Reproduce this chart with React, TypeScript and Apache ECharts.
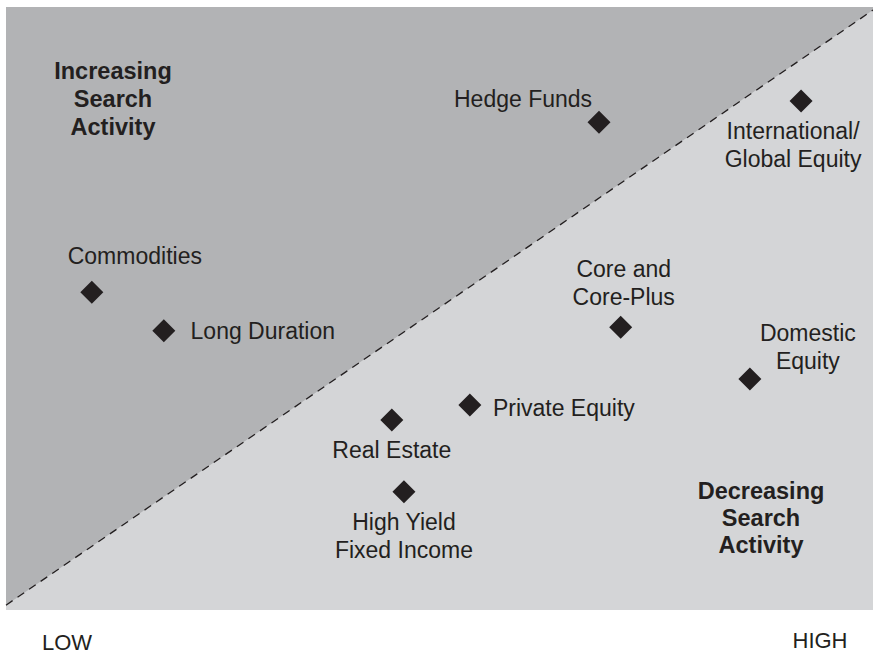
import React, { useEffect, useRef } from "react";
import * as echarts from "echarts";

// ---- data ----
const assetNames = [
  "Hedge Funds",
  "International/\nGlobal Equity",
  "Commodities",
  "Long Duration",
  "Core and\nCore-Plus",
  "Domestic\nEquity",
  "Private Equity",
  "Real Estate",
  "High Yield\nFixed Income",
];
const xValues = [68.4, 91.7, 9.9, 18.2, 70.9, 85.8, 53.5, 44.5, 45.9];
const yValues = [80.9, 84.4, 52.7, 46.3, 46.9, 38.3, 34.0, 31.5, 19.6];
const diagonalX = [0, 100];
const diagonalY = [0.8, 99.5];
const axisEndLabels = ["LOW", "HIGH"];
const regionLabels = ["Increasing\nSearch\nActivity", "Decreasing\nSearch\nActivity"];

// ---- styling (label offsets in px relative to the marker) ----
const labelOffsets: [number, number][] = [
  [-76, -23],
  [-8, 44],
  [43, -36],
  [99, 0],
  [3, -44],
  [58, -32],
  [94, 3],
  [0, 30],
  [0, 44],
];

const INK = "#231f20";
const DARK = "#b2b3b5";
const LIGHT = "#d4d5d7";
const FONT = "Liberation Sans, Arial, Helvetica, sans-serif";

export default function App() {
  const ref = useRef<HTMLDivElement>(null);

  useEffect(() => {
    if (!ref.current) return;
    const chart = echarts.init(ref.current, undefined, { renderer: "svg" });

    const scatterData = assetNames.map((name, i) => ({
      name,
      value: [xValues[i], yValues[i]],
      label: {
        show: true,
        position: "inside",
        offset: labelOffsets[i],
        formatter: name,
        color: INK,
        fontSize: 23,
        fontFamily: FONT,
        lineHeight: 28,
        align: "center",
        verticalAlign: "middle",
      },
    }));

    const textEl = (x: number, y: number, text: string, font: string, lineHeight?: number) => ({
      type: "text",
      x,
      y,
      z: 100,
      style: {
        text,
        font,
        fill: INK,
        align: "center",
        verticalAlign: "middle",
        lineHeight,
      },
    });

    chart.setOption({
      animation: false,
      grid: {
        left: 6,
        right: 0,
        top: 7,
        bottom: 46,
        show: true,
        backgroundColor: LIGHT,
        borderWidth: 0,
      },
      xAxis: { type: "value", min: 0, max: 100, show: false },
      yAxis: { type: "value", min: 0, max: 100, show: false },
      series: [
        {
          type: "line",
          data: diagonalX.map((x, i) => [x, diagonalY[i]]),
          symbol: "none",
          silent: true,
          z: 1,
          lineStyle: { color: INK, width: 1.3, type: [8, 6] },
          areaStyle: { color: DARK, opacity: 1, origin: "end" },
        },
        {
          type: "scatter",
          symbol: "diamond",
          symbolSize: 23,
          z: 3,
          itemStyle: { color: INK, opacity: 1 },
          data: scatterData,
        },
      ],
      graphic: [
        textEl(113, 99, regionLabels[0], `bold 23.5px ${FONT}`, 28),
        textEl(761, 518, regionLabels[1], `bold 23.5px ${FONT}`, 27),
        textEl(67, 642, axisEndLabels[0], `22px ${FONT}`),
        textEl(820, 640, axisEndLabels[1], `22px ${FONT}`),
      ],
    });

    return () => chart.dispose();
  }, []);

  return (
    <div
      ref={ref}
      style={{ position: "fixed", left: 0, top: 0, width: 873, height: 656, background: "#ffffff" }}
    />
  );
}
